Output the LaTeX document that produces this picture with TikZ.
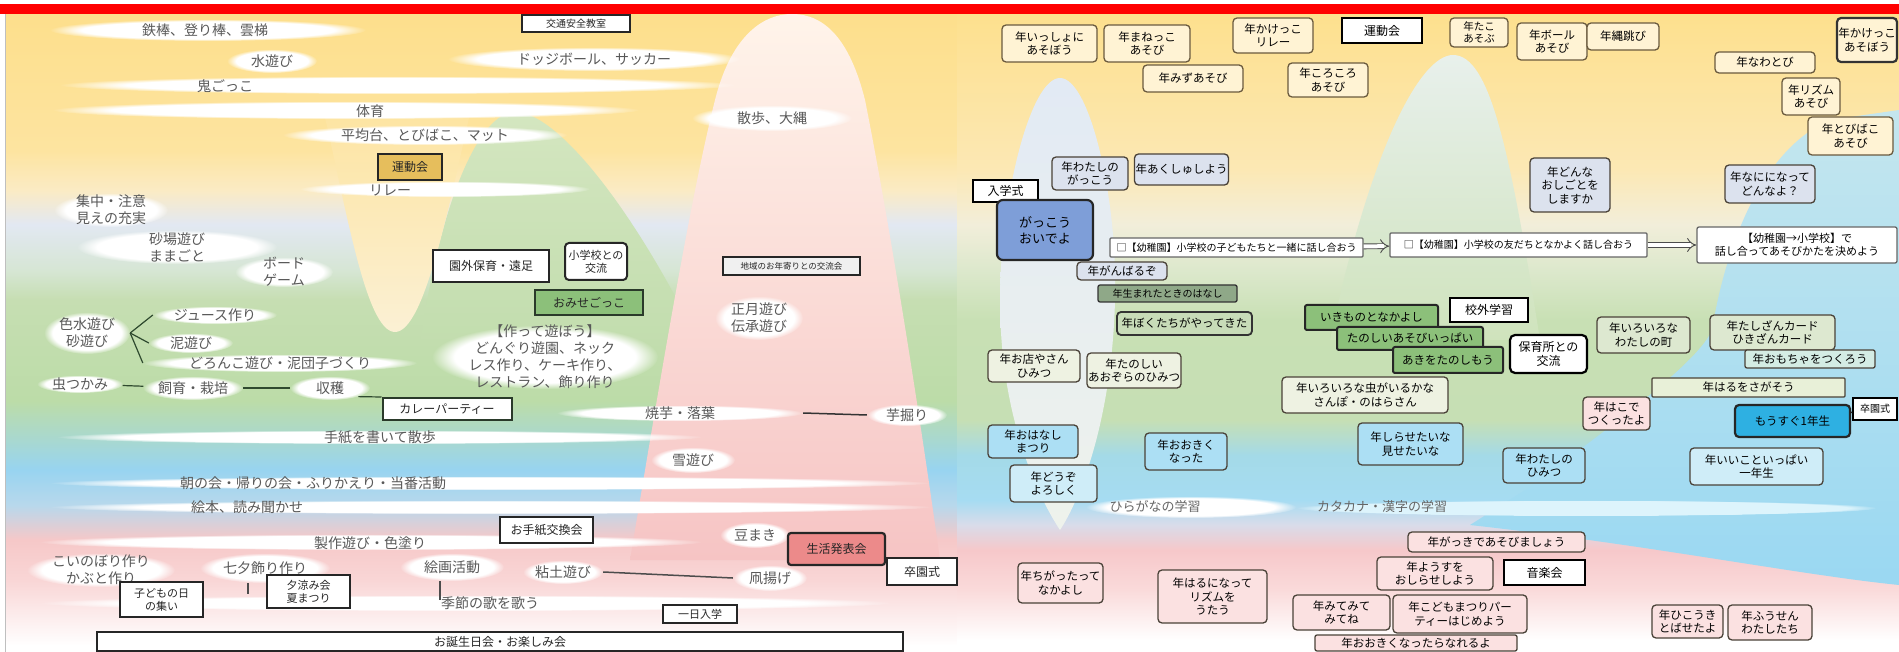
\documentclass[tikz,border=0pt]{standalone}
\usepackage{fontspec}
\setmainfont{Noto Sans CJK JP}
\usetikzlibrary{fadings,arrows.meta,shapes.geometric}
\pgfdeclarelayer{bg}
\pgfdeclarelayer{blob}
\pgfsetlayers{bg,blob,main}
% colours
\definecolor{ltx}{HTML}{585858}
\definecolor{cgr}{HTML}{2F4A2F}
\definecolor{dkg}{HTML}{2A3A2A}
\definecolor{gold}{HTML}{E6BE5C}
\definecolor{rpk}{HTML}{EC8A8A}
\definecolor{grn}{HTML}{8CC07A}
\definecolor{crm}{HTML}{FFF3D4}
\definecolor{brd}{HTML}{6A5A3E}
\definecolor{lav}{HTML}{DCE2EE}
\definecolor{lgr}{HTML}{EEF2E2}
\definecolor{lgrB}{HTML}{C8DCB8}
\definecolor{lgrC}{HTML}{DDE8D0}
\definecolor{lcy}{HTML}{D4ECE4}
\definecolor{lcr}{HTML}{E8F0D8}
\definecolor{lbl}{HTML}{ACDFF4}
\definecolor{lblB}{HTML}{CFEDF8}
\definecolor{pnk}{HTML}{FBE1E1}
\definecolor{mbl}{HTML}{7E9ED8}
\definecolor{bbl}{HTML}{2EB0E2}
\definecolor{dgr}{HTML}{8FA888}
\definecolor{rbd}{HTML}{4A4238}
% background colours
\definecolor{lyA}{HTML}{FDDF8C}
\definecolor{lyAA}{HTML}{FDE4A0}
\definecolor{lyB}{HTML}{FBEBC4}
\definecolor{lpl}{HTML}{E2E8F2}
\definecolor{lplB}{HTML}{D6E6D4}
\definecolor{lgB}{HTML}{C6DEB2}
\definecolor{lgA}{HTML}{BCDCA8}
\definecolor{ltl}{HTML}{A8D8D0}
\definecolor{lbA}{HTML}{98D4F0}
\definecolor{lbB}{HTML}{B8D8EC}
\definecolor{lpA}{HTML}{F6C8C8}
\definecolor{lpB}{HTML}{F9D6D6}
\definecolor{gmtA}{HTML}{D4E6C0}
\definecolor{gmtB}{HTML}{C2DDAE}
\definecolor{ytip}{HTML}{FBF0D4}
\definecolor{pmA}{HTML}{FFF4EA}
\definecolor{pmB}{HTML}{F9DAD4}
\definecolor{pmC}{HTML}{F6C4C4}
\definecolor{ryA}{HTML}{FDE08E}
\definecolor{ryB}{HTML}{FCE8B4}
\definecolor{rpl}{HTML}{F2EEDA}
\definecolor{rgC}{HTML}{DCE8CC}
\definecolor{rgA}{HTML}{C8E0B4}
\definecolor{rgB}{HTML}{C6DFB4}
\definecolor{rblA}{HTML}{A4DAE8}
\definecolor{rblB}{HTML}{A6DCF2}
\definecolor{rtr}{HTML}{D8DCEA}
\definecolor{rpA}{HTML}{F6C8CA}
\definecolor{rpB}{HTML}{FADADA}
\definecolor{spA}{HTML}{E2EAF4}
\definecolor{spB}{HTML}{EEF2EC}
\definecolor{gwA}{HTML}{E8F0EC}
\definecolor{gwB}{HTML}{CFE3BC}
\definecolor{brA}{HTML}{C4E6EE}
\definecolor{brB}{HTML}{7ACEF2}
\definecolor{brC}{HTML}{9AD8F2}
\definecolor{kband}{HTML}{DDF4FC}
\pgfdeclareverticalshading{leftbg}{100bp}{color(0bp)=(white); color(25.5bp)=(white); color(30.6bp)=(lpB); color(33.8bp)=(lpA); color(36.5bp)=(lbB); color(39.3bp)=(lbA); color(41.6bp)=(ltl); color(44.7bp)=(lgA); color(52.6bp)=(lgB); color(54.9bp)=(lplB); color(58.5bp)=(lpl); color(61.2bp)=(lyB); color(64.3bp)=(lyAA); color(75bp)=(lyA); color(100bp)=(lyA)}
\pgfdeclareverticalshading{rightbg}{100bp}{color(0bp)=(white); color(25.9bp)=(white); color(29.9bp)=(rpB); color(33bp)=(rpA); color(35bp)=(rtr); color(36.9bp)=(rblB); color(40.4bp)=(rblA); color(43.2bp)=(rgB); color(51bp)=(rgA); color(54.9bp)=(rgC); color(58.5bp)=(rpl); color(62.8bp)=(ryB); color(75bp)=(ryA); color(100bp)=(ryA)}
\tikzset{
  lt/.style={text=ltx, font=\fontsize{14}{17}\selectfont, align=center, inner sep=0pt},
  sz/.style 2 args={minimum width=#1pt, minimum height=#2pt},
  lbox/.style={draw=black!85, line width=2pt, fill=white, text=black!85, font=\fontsize{12}{14}\selectfont, align=center, inner sep=1pt},
  rb/.style={draw=rbd, line width=1.3pt, rounded corners=4pt, text=black, font=\fontsize{11.5}{13.5}\selectfont, align=center, inner sep=1pt},
  rw/.style={draw=black, line width=2.2pt, fill=white, text=black, font=\fontsize{12}{14}\selectfont, align=center, inner sep=1pt},
  conn/.style={draw=cgr, line width=1.2pt},
  dbl/.style={double=white, double distance=4pt, line width=0.9pt, draw=black!70, -{Implies}},
}
\newcommand{\band}[4]{\begin{pgfonlayer}{blob}\fill[white, path fading=circle with fuzzy edge 20 percent] (#1,#2) ellipse [x radius=#3, y radius=#4];\end{pgfonlayer}}
\newcommand{\eln}[6]{\band{#2}{#3}{#4}{#5}\node[lt, ellipse, minimum width=2*#4pt, minimum height=2*#5pt] (#1) at (#2,#3) {#6};}
\begin{document}
\begin{tikzpicture}[x=1pt,y=-1pt]
\useasboundingbox (0,0) rectangle (1899,652);
\begin{pgfonlayer}{bg}
\fill[white] (0,0) rectangle (1899,652);
\shade[shading=leftbg] (6,14) rectangle (957,652);
\shade[shading=rightbg] (957,14) rectangle (1899,652);
% left overlays
\shade[top color=gmtA, bottom color=gmtB] (420,345) .. controls (440,200) and (480,112) .. (515,112) .. controls (560,112) and (640,220) .. (700,345) -- cycle;
\shade[top color=lyAA, bottom color=ytip] (322,105) .. controls (345,200) and (365,332) .. (395,332) .. controls (425,332) and (450,200) .. (472,105) -- cycle;
\shade[top color=pmA, middle color=pmB, bottom color=pmC] (630,560) .. controls (660,380) and (690,200) .. (715,100) .. controls (730,40) and (760,14) .. (792,14) .. controls (825,14) and (850,40) .. (865,100) .. controls (885,200) and (915,380) .. (940,560) -- cycle;
% right overlays
\shade[top color=brA, middle color=brB, bottom color=brC] (1470,525) -- (1530,487) .. controls (1620,420) and (1700,360) .. (1712,330) .. controls (1725,250) and (1760,150) .. (1830,120) -- (1899,110) -- (1899,585) .. controls (1800,575) and (1650,545) .. (1470,525) -- cycle;
\shade[top color=spA, bottom color=spB] (1060,78) .. controls (1090,78) and (1118,200) .. (1115,300) .. controls (1112,420) and (1080,500) .. (1060,530) .. controls (1040,500) and (1000,420) .. (1000,300) .. controls (1000,200) and (1030,78) .. (1060,78) -- cycle;
\shade[top color=gwA, bottom color=gwB] (1330,340) .. controls (1370,150) and (1420,55) .. (1453,55) .. controls (1490,55) and (1510,150) .. (1540,340) -- cycle;
\fill[red] (0,4) rectangle (1899,14);
\draw[black!25, line width=0.8pt] (5,14) -- (5,652);
\end{pgfonlayer}
% ---------------- left panel ----------------
\band{208}{30}{158}{11}
\node[lt] (t1) at (205,30) {鉄棒、登り棒、雲梯};
\eln{t2}{272}{61}{45}{12}{水遊び}
\eln{t3}{594}{59}{146}{12}{ドッジボール、サッカー}
\band{398}{85}{338}{9}
\node[lt] (t4) at (225,86) {鬼ごっこ};
\band{346}{110}{293}{9}
\node[lt] (t5) at (370,111) {体育};
\band{425}{135}{142}{10}
\node[lt] (t6) at (425,135) {平均台、とびばこ、マット};
\eln{t7}{772}{118}{80}{13}{散歩、大縄}
\node[lbox, fill=gold, line width=2.5pt, sz={64}{26}] (b1) at (410,167) {運動会};
\band{445}{189}{145}{8}
\node[lt] (t8) at (390,190) {リレー};
\eln{t9}{111}{210}{57}{17}{集中・注意\\見えの充実}
\eln{t10}{177}{247}{100}{17}{砂場遊び\\ままごと}
\eln{t11}{284}{272}{49}{15}{ボード\\ゲーム}
\eln{t12}{215}{315}{62}{9}{ジュース作り}
\eln{t13}{87}{333}{43}{21}{色水遊び\\砂遊び}
\eln{t14}{191}{343}{42}{10}{泥遊び}
\eln{t15}{280}{363}{137}{9}{どろんこ遊び・泥団子づくり}
\eln{t16}{80}{384}{43}{9}{虫つかみ}
\eln{t17}{193}{388}{50}{12}{飼育・栽培}
\eln{t18}{330}{388}{40}{12}{収穫}
\node[lbox, draw=dkg, sz={129}{22}] (b2) at (447,409) {カレーパーティー};
\band{380}{437}{323}{7}
\node[lt] (t19) at (380,437) {手紙を書いて散歩};
\eln{t20}{545}{357}{113}{32}{【作って遊ぼう】\\どんぐり遊園、ネック\\レス作り、ケーキ作り、\\レストラン、飾り作り}
\node[lbox, sz={116}{32}] (b3) at (491,266) {園外保育・遠足};
\node[lbox, rounded corners=4pt, font=\fontsize{11}{13}\selectfont, sz={62}{37}] (b4) at (596,261.5) {小学校との\\交流};
\node[lbox, fill=grn, draw=dkg, sz={108}{25}] (b5) at (589,302.5) {おみせごっこ};
\node[lbox, fill=black!6, font=\fontsize{8.5}{10}\selectfont, sz={137}{18}] (b6) at (791.5,266) {地域のお年寄りとの交流会};
\eln{t21}{759}{318}{44}{22}{正月遊び\\伝承遊び}
\eln{t22}{680}{413}{123}{8}{焼芋・落葉}
\eln{t23}{907}{415}{40}{11}{芋掘り}
\eln{t24}{693}{460}{42}{13}{雪遊び}
\band{490}{483}{440}{7}
\node[lt] (t25) at (313,483) {朝の会・帰りの会・ふりかえり・当番活動};
\band{491}{507}{441}{7}
\node[lt] (t26) at (247,507) {絵本、読み聞かせ};
\band{371}{542}{331}{8}
\node[lt] (t27) at (370,543) {製作遊び・色塗り};
\node[lbox, sz={93}{26}] (b7) at (546.5,530) {お手紙交換会};
\eln{t28}{755}{535}{35}{13}{豆まき}
\node[lbox, fill=rpk, line width=2.2pt, rounded corners=3pt, sz={97}{32}] (b8) at (836.5,549) {生活発表会};
\node[lbox, sz={70}{27}] (b9) at (922,571.5) {卒園式};
\eln{t29}{101}{570}{74}{17}{こいのぼり作り\\かぶと作り}
\eln{t30}{265}{568}{65}{15}{七夕飾り作り}
\node[lbox, font=\fontsize{11}{13}\selectfont, sz={83}{33}] (b10) at (308.5,591.5) {夕涼み会\\夏まつり};
\node[lbox, font=\fontsize{11}{13}\selectfont, sz={83}{35}] (b11) at (161.5,599.5) {子どもの日\\の集い};
\eln{t31}{452}{567}{52}{14}{絵画活動}
\band{466}{603}{426}{8}
\node[lt] (t32) at (490,603) {季節の歌を歌う};
\eln{t33}{563}{572}{40}{12}{粘土遊び}
\eln{t34}{770}{578}{37}{13}{凧揚げ}
\node[lbox, font=\fontsize{11}{13}\selectfont, sz={74}{18}] (b12) at (700,614) {一日入学};
\node[lbox, sz={806}{19}] (b13) at (500,641.5) {お誕生日会・お楽しみ会};
\node[lbox, font=\fontsize{10}{12}\selectfont, sz={108}{17}] (b14) at (576,23.5) {交通安全教室};
% left connectors
\draw[conn] (t13.east) -- (t12.west);
\draw[conn] (t13.east) -- (t14.west);
\draw[conn] (t13.east) -- (t15.west);
\draw[conn] (t16) -- (t17);
\draw[conn, line width=2pt] (t17) -- (t18);
\draw[conn] (t18.south east) -- (b2.north west);
\draw[conn, draw=black!80, line width=1.5pt] (t22.east) -- (t23.west);
\draw[conn, draw=black!70, line width=1.5pt] (t33.east) -- (t34.west);
\coordinate (c1) at (248,594);
\draw[conn, draw=black!70] (t30.south -| c1) -- (c1);
\coordinate (c2) at (440,600);
\draw[conn, draw=black!70] (t31.south -| c2) -- (c2);
% ---------------- right panel ----------------
\band{1191}{507}{105}{11}
\begin{pgfonlayer}{blob}\fill[kband, path fading=circle with fuzzy edge 10 percent] (1587,508) ellipse [x radius=290, y radius=8];\end{pgfonlayer}
\node[lt, text=black!60, font=\fontsize{13}{15}\selectfont] (h1) at (1155,507) {ひらがなの学習};
\node[lt, text=black!60, font=\fontsize{13}{15}\selectfont] (h2) at (1382,507) {カタカナ・漢字の学習};
\node[rb, fill=crm, draw=brd, sz={95}{37}] (r1) at (1049.5,43.5) {年いっしょに\\あそぼう};
\node[rb, fill=crm, draw=brd, sz={86}{37}] (r2) at (1147,43.5) {年まねっこ\\あそび};
\node[rb, fill=crm, draw=brd, sz={100}{27}] (r3) at (1193,78.5) {年みずあそび};
\node[rb, fill=crm, draw=brd, sz={80}{35}] (r4) at (1273,35.5) {年かけっこ\\リレー};
\node[rw, sz={80}{25}] (r5) at (1382,30.5) {運動会};
\node[rb, fill=crm, draw=brd, sz={80}{34}] (r6) at (1328,80) {年ころころ\\あそび};
\node[rb, fill=crm, draw=brd, font=\fontsize{10.5}{12}\selectfont, sz={58}{29}] (r7) at (1479,32.5) {年たこ\\あそぶ};
\node[rb, fill=crm, draw=brd, sz={70}{37}] (r8) at (1552,41.5) {年ボール\\あそび};
\node[rb, fill=crm, draw=brd, sz={72}{27}] (r9) at (1623,36.5) {年縄跳び};
\node[rb, fill=crm, draw=brd, sz={100}{21}] (r10) at (1765,62.5) {年なわとび};
\node[rb, fill=crm, draw=brd, sz={58}{37}] (r11) at (1811,96.5) {年リズム\\あそび};
\node[rb, fill=crm, draw=brd, sz={85}{38}] (r12) at (1850.5,136) {年とびばこ\\あそび};
\node[rb, fill=crm, draw=black!80, line width=2.2pt, sz={60}{44}] (r13) at (1867,40) {年かけっこ\\あそぼう};
\node[rb, fill=lav, sz={76}{33}] (r14) at (1090,173.5) {年わたしの\\がっこう};
\node[rb, fill=lav, sz={93}{31}] (r15) at (1181.5,169.5) {年あくしゅしよう};
\node[rb, fill=lav, sz={80}{54}] (r16) at (1570,185) {年どんな\\おしごとを\\しますか};
\node[rb, fill=lav, sz={90}{38}] (r17) at (1770,184) {年なにになって\\どんなよ？};
\node[rw, line width=2pt, sz={65}{22}] (r18) at (1005.5,191) {入学式};
\node[rb, fill=mbl, draw=black!85, line width=2.2pt, rounded corners=6pt, font=\fontsize{13}{16}\selectfont, sz={96}{60}] (r19) at (1045,230) {がっこう\\おいでよ};
\node[rb, fill=white, draw=black!60, rounded corners=1pt, font=\fontsize{10}{12}\selectfont, sz={253}{19}] (r20) at (1236.5,247.5) {□【幼稚園】小学校の子どもたちと一緒に話し合おう};
\node[rb, fill=white, draw=black!60, rounded corners=1pt, font=\fontsize{10}{12}\selectfont, sz={257}{24}] (r21) at (1518.5,245) {□【幼稚園】小学校の友だちとなかよく話し合おう};
\node[rb, fill=white, draw=black!60, rounded corners=2pt, font=\fontsize{11}{13}\selectfont, sz={200}{36}] (r22) at (1797,245) {【幼稚園→小学校】で\\話し合ってあそびかたを決めよう};
\draw[dbl] (r20) -- (r21);
\draw[dbl] (r21) -- (r22);
\node[rb, fill=lav, sz={90}{18}] (r23) at (1122,271) {年がんばるぞ};
\node[rb, fill=dgr, draw=black!80, rounded corners=2pt, font=\fontsize{10}{12}\selectfont, sz={139}{17}] (r24) at (1167.5,293.5) {年生まれたときのはなし};
\node[rb, fill=lgrB, draw=black!80, line width=1.8pt, sz={135}{23}] (r25) at (1184.5,323.5) {年ぼくたちがやってきた};
\node[rb, fill=grn, draw=black!85, line width=2pt, rounded corners=2pt, sz={133}{25}] (r26) at (1371.5,317.5) {いきものとなかよし};
\node[rb, fill=grn, draw=black!85, line width=2pt, rounded corners=2pt, sz={146}{23}] (r27) at (1410,338.5) {たのしいあそびいっぱい};
\node[rb, fill=grn, draw=black!85, line width=2pt, rounded corners=2pt, sz={110}{26}] (r28) at (1448,360) {あきをたのしもう};
\node[rw, sz={78}{24}] (r29) at (1489,310) {校外学習};
\node[rw, rounded corners=5pt, sz={77}{38}] (r30) at (1548.5,354) {保育所との\\交流};
\node[rb, fill=lgr, sz={166}{36}] (r31) at (1365,395) {年いろいろな虫がいるかな\\さんぽ・のはらさん};
\node[rb, fill=lbl, sz={105}{42}] (r32) at (1410.5,444) {年しらせたいな\\見せたいな};
\node[rb, fill=lbl, sz={82}{35}] (r33) at (1544,465.5) {年わたしの\\ひみつ};
\node[rb, fill=lgrC, sz={93}{36}] (r34) at (1643.5,335) {年いろいろな\\わたしの町};
\node[rb, fill=lgrC, sz={125}{35}] (r35) at (1772.5,332.5) {年たしざんカード\\ひきざんカード};
\node[rb, fill=lcy, rounded corners=2pt, sz={130}{18}] (r36) at (1810,359) {年おもちゃをつくろう};
\node[rb, fill=lcr, rounded corners=1pt, sz={193}{19}] (r37) at (1748.5,387.5) {年はるをさがそう};
\node[rb, fill=pnk, sz={67}{33}] (r38) at (1616.5,413.5) {年はこで\\つくったよ};
\node[rb, fill=bbl, draw=black!85, line width=2.2pt, sz={115}{32}] (r39) at (1792.5,421) {もうすぐ1年生};
\node[rw, line width=1.5pt, font=\fontsize{10}{12}\selectfont, sz={44}{22}] (r40) at (1875,409) {卒園式};
\draw[black!85, line width=1.5pt] (r39) -- (r40);
\node[rb, fill=lblB, sz={133}{37}] (r41) at (1756.5,466.5) {年いいこといっぱい\\一年生};
\node[rb, fill=lbl, sz={90}{33}] (r42) at (1033,441.5) {年おはなし\\まつり};
\node[rb, fill=lblB, sz={87}{37}] (r43) at (1053.5,483.5) {年どうぞ\\よろしく};
\node[rb, fill=lbl, sz={82}{37}] (r44) at (1186,451.5) {年おおきく\\なった};
\node[rb, fill=lgr, sz={92}{32}] (r45) at (1034,366) {年お店やさん\\ひみつ};
\node[rb, fill=lgr, sz={92}{35}] (r46) at (1134,370.5) {年たのしい\\あおぞらのひみつ};
\node[rb, fill=pnk, sz={85}{40}] (r47) at (1060.5,583) {年ちがったって\\なかよし};
\node[rb, fill=pnk, sz={109}{53}] (r48) at (1212.5,596.5) {年はるになって\\リズムを\\うたう};
\node[rb, fill=pnk, sz={97}{35}] (r49) at (1341.5,612.5) {年みてみて\\みてね};
\node[rb, fill=pnk, rounded corners=2pt, sz={202}{16}] (r50) at (1416,643) {年おおきくなったらなれるよ};
\node[rb, fill=pnk, sz={177}{20}] (r51) at (1496.5,542) {年がっきであそびましょう};
\node[rb, fill=pnk, sz={116}{33}] (r52) at (1435,573.5) {年ようすを\\おしらせしよう};
\node[rw, sz={81}{25}] (r53) at (1544.5,572.5) {音楽会};
\node[rb, fill=pnk, sz={134}{38}] (r54) at (1460,614) {年こどもまつりパー\\ティーはじめよう};
\node[rb, fill=pnk, sz={71}{33}] (r55) at (1687.5,621.5) {年ひこうき\\とばせたよ};
\node[rb, fill=pnk, sz={84}{35}] (r56) at (1770,622.5) {年ふうせん\\わたしたち};
\end{tikzpicture}
\end{document}
